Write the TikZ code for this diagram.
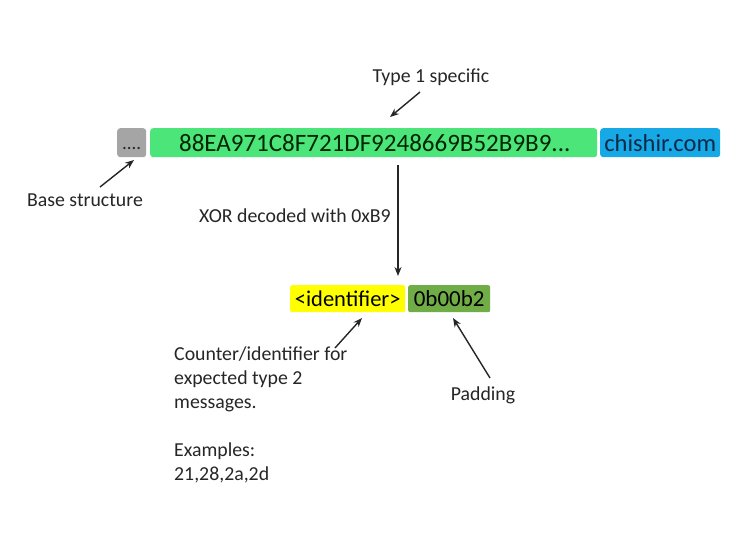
\documentclass[tikz,border=0pt]{standalone}
\usepackage{fontspec}
\setmainfont{Carlito}
\usetikzlibrary{arrows.meta}
\definecolor{grayc}{HTML}{A5A5A5}
\definecolor{greenc}{HTML}{4CE57A}
\definecolor{bluec}{HTML}{17A9E6}
\definecolor{yellowc}{HTML}{FFFF00}
\definecolor{dgreenc}{HTML}{70AD47}
\definecolor{navy}{HTML}{0B2A4A}
\definecolor{txt}{HTML}{262626}
\begin{document}
\begin{tikzpicture}[x=1pt,y=-1pt,
  seg/.style={rounded corners=3pt,inner sep=0pt,anchor=north west},
  lbl/.style={font=\fontsize{19.8}{24}\selectfont,text=txt,inner sep=0pt},
  arr/.style={-{Stealth[length=9pt,width=7pt]},line width=1.4pt,black!85}]
\useasboundingbox (0,0) rectangle (740,555);
\fill[white] (0,0) rectangle (740,555);
% top row
\node[seg,fill=grayc,minimum width=29pt,minimum height=29pt] (base) at (117,128) {};
\node[font=\fontsize{19}{20}\selectfont,text=txt,inner sep=0pt] at ([yshift=-6pt]base.center) {....};
\node[seg,fill=greenc,minimum width=447pt,minimum height=29pt] (hex) at (150,128) {};
\node[font=\fontsize{25}{26}\selectfont,text=black!85!green,inner sep=0pt] at ([xshift=1pt]hex.center) {88EA971C8F721DF9248669B52B9B9...};
\node[seg,fill=bluec,minimum width=120pt,minimum height=29pt] (dom) at (600,128) {};
\node[font=\fontsize{24.5}{26}\selectfont,text=navy,inner sep=0pt] at (dom.center) {chishir.com};
% labels top
\node[lbl] (t1) at (431,77) {Type 1 specific};
\coordinate (t1tip) at (390,117);
\draw[arr] (420,92) -- (t1tip);
\node[lbl] (bs) at (85,200) {Base structure};
\coordinate (bstip) at (134,160);
\draw[arr] (100,187) -- (bstip);
% xor
\coordinate (xs) at (398,165);
\node[seg,fill=yellowc,minimum width=115pt,minimum height=27pt,rounded corners=2pt] (id) at (290,285) {};
\node[font=\fontsize{22.5}{24}\selectfont,text=black,inner sep=0pt] at (id.center) {<identifier>};
\node[seg,fill=dgreenc,minimum width=82pt,minimum height=27pt,rounded corners=2pt] (pad) at (408,285) {};
\node[font=\fontsize{23}{24}\selectfont,text=black,inner sep=0pt] at (pad.center) {0b00b2};
\draw[arr] (xs) -- (398,276);
\node[lbl,anchor=east] (xor) at (391,216) {XOR decoded with 0xB9};
% bottom labels
\draw[arr] (335,348) -- (362,318);
\draw[arr] (490,378) -- (453,318);
\node[lbl] (pd) at (483,395) {Padding};
\node[lbl,anchor=north west,align=left] (cnt) at (174,347) {Counter/identifier for\\expected type 2\\messages.\\[24pt]Examples:\\21,28,2a,2d};
\end{tikzpicture}
\end{document}
